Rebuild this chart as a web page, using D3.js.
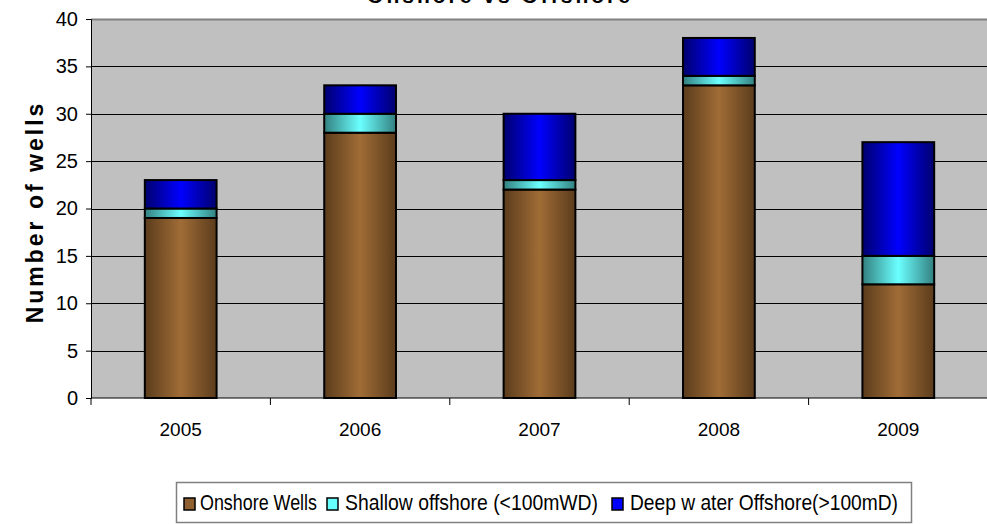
<!DOCTYPE html>
<html lang="en">
<head>
<meta charset="UTF-8">
<title>Onshore vs Offshore</title>
<script src="https://d3js.org/d3.v7.min.js"></script>
<style>
  body { margin: 0; background: #fff; }
  text { font-family: "Liberation Sans", Arial, sans-serif; }
  .legend text { font-family: "Liberation Sans Narrow", "Liberation Sans", Arial, sans-serif; }
</style>
</head>
<body>
<script>
// data
var years = ["2005", "2006", "2007", "2008", "2009"];
var onshore = [19, 28, 22, 33, 12];
var shallow = [1, 2, 1, 1, 3];
var deep = [3, 3, 7, 4, 12];
var seriesNames = ["Onshore Wells", "Shallow  offshore (<100mWD)", "Deep w ater Offshore(>100mD)"];
var yTicks = [0, 5, 10, 15, 20, 25, 30, 35, 40];

var width = 987, height = 524;
var margin = { top: 19, left: 91, bottom: 126 };
var plotW = 897, plotH = height - margin.top - margin.bottom;

var svg = d3.select("body").append("svg")
  .attr("width", width)
  .attr("height", height);

// gradients, dark edges / bright middle like the excel bars
var colors = [
  { id: "gOn", edge: "#5b3c1c", mid: "#a06c36" },
  { id: "gSh", edge: "#338080", mid: "#6bffff" },
  { id: "gDp", edge: "#00006e", mid: "#0000ff" }
];
var defs = svg.append("defs");
colors.forEach(function (c) {
  var g = defs.append("linearGradient").attr("id", c.id)
    .attr("x1", "0%").attr("x2", "100%").attr("y1", "0%").attr("y2", "0%");
  g.append("stop").attr("offset", "0%").attr("stop-color", c.edge);
  g.append("stop").attr("offset", "50%").attr("stop-color", c.mid);
  g.append("stop").attr("offset", "100%").attr("stop-color", c.edge);
});

var table = years.map(function (y, i) {
  return { year: y, on: onshore[i], sh: shallow[i], dp: deep[i] };
});
var stacked = d3.stack().keys(["on", "sh", "dp"])(table);

var x = d3.scaleBand().domain(years).range([0, plotW])
  .paddingInner(0.6).paddingOuter(0.3);
var xEdge = d3.scaleLinear().domain([0, years.length]).range([0, plotW]);
var y = d3.scaleLinear().domain([0, 40]).range([plotH, 0]);

var g = svg.append("g").attr("transform", "translate(" + margin.left + "," + margin.top + ")");

// plot background
g.append("rect").attr("x", 0).attr("y", 0).attr("width", plotW).attr("height", plotH)
  .attr("fill", "#c0c0c0");
g.append("line").attr("x1", 0).attr("x2", plotW).attr("y1", 0.5).attr("y2", 0.5)
  .attr("stroke", "#808080").attr("stroke-width", 2);

// gridlines
g.selectAll(".grid").data(yTicks.filter(function (d) { return d > 0 && d < 40; }))
  .enter().append("line")
  .attr("x1", 0).attr("x2", plotW)
  .attr("y1", function (d) { return Math.round(y(d)) + 0.5; })
  .attr("y2", function (d) { return Math.round(y(d)) + 0.5; })
  .attr("stroke", "#000").attr("stroke-width", 1.2);

// bars
var fills = ["url(#gOn)", "url(#gSh)", "url(#gDp)"];
g.selectAll(".layer").data(stacked).enter().append("g")
  .attr("fill", function (d, i) { return fills[i]; })
  .selectAll("rect").data(function (d) { return d; })
  .enter().append("rect")
  .attr("x", function (d) { return x(d.data.year); })
  .attr("y", function (d) { return y(d[1]); })
  .attr("width", x.bandwidth())
  .attr("height", function (d) { return y(d[0]) - y(d[1]); })
  .attr("stroke", "#000").attr("stroke-width", 2);

// y axis
var yAxis = d3.axisLeft(y).tickValues(yTicks).tickSize(5).tickPadding(8);
var ya = g.append("g").call(yAxis);
ya.select(".domain").attr("stroke", "#000");
ya.selectAll("text").attr("font-size", 20).attr("fill", "#000")
  .style("font-family", "'Liberation Sans', Arial, sans-serif");

// x axis: baseline and boundary ticks
g.append("line").attr("x1", 0).attr("x2", plotW).attr("y1", plotH).attr("y2", plotH)
  .attr("stroke", "#000").attr("stroke-width", 1);
g.selectAll(".xt").data(d3.range(years.length + 1)).enter().append("line")
  .attr("x1", function (d) { return xEdge(d); }).attr("x2", function (d) { return xEdge(d); })
  .attr("y1", plotH).attr("y2", plotH + 7).attr("stroke", "#000");
g.selectAll(".xl").data(years).enter().append("text")
  .attr("x", function (d) { return x(d) + x.bandwidth() / 2; })
  .attr("y", plotH + 38)
  .attr("text-anchor", "middle").attr("font-size", 19)
  .text(function (d) { return d; });

// title (cut off at the top, as in the original)
svg.append("text").attr("x", 500).attr("y", 3)
  .attr("text-anchor", "middle").attr("font-size", 21).attr("font-weight", "bold")
  .attr("letter-spacing", "3px")
  .text("Onshore vs Offshore");

// y label
svg.append("text")
  .attr("transform", "translate(43,212) rotate(-90)")
  .attr("text-anchor", "middle").attr("font-size", 23).attr("font-weight", "bold")
  .attr("letter-spacing", "3px")
  .text("Number of wells");

// legend
var leg = svg.append("g").attr("class", "legend");
leg.append("rect").attr("x", 176.5).attr("y", 482.5).attr("width", 735).attr("height", 40)
  .attr("fill", "#fff").attr("stroke", "#808080").attr("stroke-width", 1.5);
var legItems = [
  { sq: 184, tx: 200, len: 117, fill: "#8f5f30" },
  { sq: 327, tx: 345, len: 253, fill: "#66ffff" },
  { sq: 612, tx: 630, len: 268, fill: "#0000ff" }
];
legItems.forEach(function (it, i) {
  leg.append("rect").attr("x", it.sq).attr("y", 498).attr("width", 11).attr("height", 12)
    .attr("fill", it.fill).attr("stroke", "#000").attr("stroke-width", 1.5);
  leg.append("text").attr("x", it.tx).attr("y", 510)
    .attr("font-size", 22)
    .attr("textLength", it.len).attr("lengthAdjust", "spacingAndGlyphs")
    .text(seriesNames[i]);
});
</script>
</body>
</html>
